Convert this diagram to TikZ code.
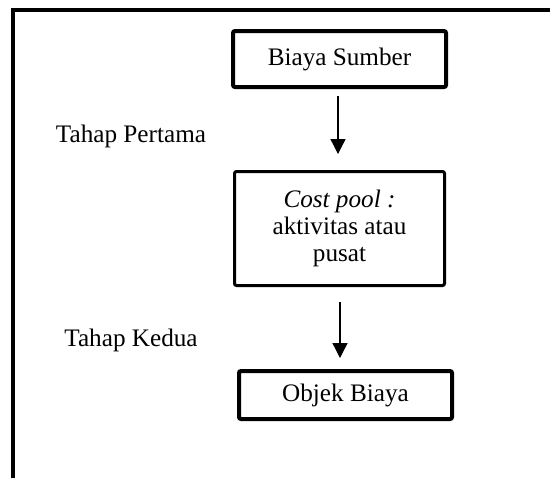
\documentclass[tikz,border=0pt]{standalone}
\usepackage{fontspec}
\setmainfont{Liberation Serif}
\usetikzlibrary{arrows.meta}
\begin{document}
\begin{tikzpicture}[x=0.5pt,y=-0.5pt,
  every node/.style={font=\fontsize{12.6}{13.3}\selectfont},
  thickbox/.style={draw, line width=2pt, rounded corners=1pt, inner sep=0pt, align=center},
  medbox/.style={draw, line width=1.5pt, rounded corners=1pt, inner sep=0pt, align=center},
  flow/.style={line width=0.65pt, -{Triangle[length=7.5pt,width=7.5pt]}},
  lbl/.style={anchor=base}]
\useasboundingbox (0,0) rectangle (550,478);
% outer frame (cut off at right and bottom)
\draw[line width=2pt] (13,478) -- (13,10) -- (552,10);
% boxes
\node[thickbox, minimum width=106.5pt, minimum height=28pt] (b1) at (339.5,59) {Biaya Sumber};
\node[medbox, minimum width=105pt, minimum height=57pt] (b2) at (339.5,228.5) {\textit{Cost pool :}\\aktivitas atau\\pusat};
\node[thickbox, minimum width=106.5pt, minimum height=24pt] (b3) at (345.5,395) {Objek Biaya};
% labels
\node[lbl] (t1) at (131,142) {Tahap Pertama};
\node[lbl] (t2) at (131,346) {Tahap Kedua};
% arrows
\draw[flow, shorten <=3.5pt, shorten >=8pt] ([xshift=-0.75pt]b1.south) -- ([xshift=-0.75pt]b2.north);
\draw[flow, shorten <=7.5pt, shorten >=5.5pt] ([xshift=0.25pt]b2.south) -- ([xshift=0.25pt]b2.south |- b3.north);
\end{tikzpicture}
\end{document}
